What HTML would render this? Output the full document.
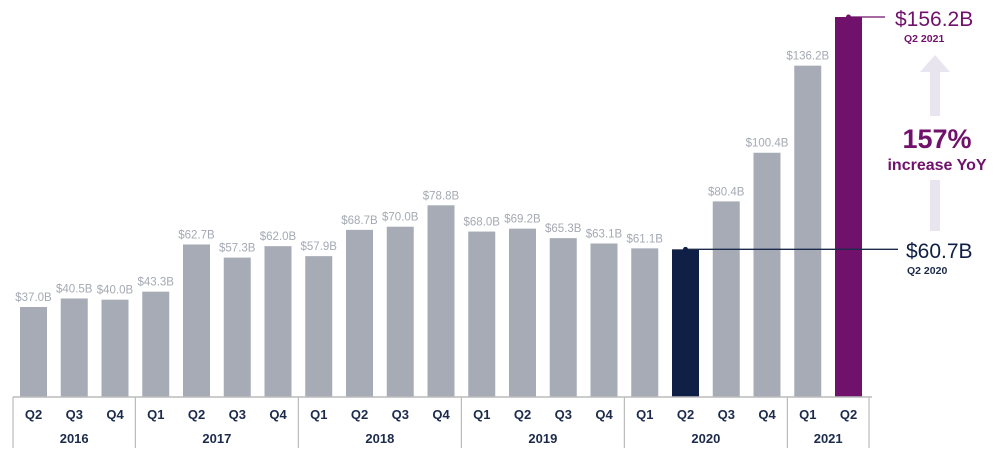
<!DOCTYPE html>
<html><head><meta charset="utf-8"><style>
body{margin:0;background:#fff;width:1000px;height:456px;overflow:hidden;font-family:"Liberation Sans",sans-serif}
</style></head><body>
<svg id="chart" width="1000" height="456" xmlns="http://www.w3.org/2000/svg"></svg>
<script>
const quarters=["Q2","Q3","Q4","Q1","Q2","Q3","Q4","Q1","Q2","Q3","Q4","Q1","Q2","Q3","Q4","Q1","Q2","Q3","Q4","Q1","Q2"];
const values=[37.0,40.5,40.0,43.3,62.7,57.3,62.0,57.9,68.7,70.0,78.8,68.0,69.2,65.3,63.1,61.1,60.7,80.4,100.4,136.2,156.2];
const years=["2016","2017","2018","2019","2020","2021"];
const yearCounts=[3,4,4,4,4,2];
const svg=document.getElementById('chart');
const NS="http://www.w3.org/2000/svg";
const base=397, scale=380/156.2, x0=20, step=40.75, bw=27;
const xPos=i=>x0+i*step;
const yPos=v=>base-v*scale;
function mk(tag,attrs,text){const e=document.createElementNS(NS,tag);for(const k in attrs)e.setAttribute(k,attrs[k]);if(text!==undefined)e.textContent=text;svg.appendChild(e);return e;}
values.forEach((v,i)=>{
  const fill=i===16?"#0f1f45":(i===20?"#70116b":"#a6abb5");
  const r=mk('rect',{x:xPos(i),y:yPos(v),width:bw,height:v*scale,fill:fill});
  
  
  if(i!==16&&i!==20){
    const t=mk('text',{x:xPos(i)+bw/2,y:yPos(v)-6,'text-anchor':'middle','font-size':'11.5',fill:'#a4a9b3'},'$'+v.toFixed(1)+'B');
    
    
  }
  const q=mk('text',{x:xPos(i)+bw/2,y:419,'text-anchor':'middle','font-size':'13','font-weight':'bold',fill:'#1c2b4b'},quarters[i]);
  
  
});
mk('line',{x1:13,y1:base,x2:872,y2:base,stroke:'#bbb','stroke-width':1.5});
let idx=0;
const sepX=i=>xPos(i)-(step-bw)/2;
mk('line',{x1:13,y1:base,x2:13,y2:448,stroke:'#bbb','stroke-width':1.2});
years.forEach((y,k)=>{
  const s=idx,e=idx+yearCounts[k];
  const xe=e<values.length?sepX(e):xPos(e-1)+bw+7;
  mk('line',{x1:xe,y1:base,x2:xe,y2:448,stroke:'#bbb','stroke-width':1.2});
  const xs=s===0?13:sepX(s);
  const t=mk('text',{x:(xs+xe)/2,y:443,'text-anchor':'middle','font-size':'13','font-weight':'bold',fill:'#1c2b4b'},y);
  
  
  idx=e;
});
// annotations
const y20=yPos(values[16]), y21=yPos(values[20]);
mk('line',{x1:xPos(16)+bw/2,y1:y20,x2:898,y2:y20,stroke:'#1c2b4b','stroke-width':1.3});
mk('circle',{cx:xPos(16)+bw/2,cy:y20,r:2.5,fill:'#0f1f45'});
mk('line',{x1:xPos(20)+bw/2,y1:y21,x2:885,y2:y21,stroke:'#70116b','stroke-width':1.3});
mk('circle',{cx:xPos(20)+bw/2,cy:y21,r:2.5,fill:'#70116b'});
const a=mk('text',{x:895,y:26,'font-size':'21',fill:'#70116b'},'$'+values[20].toFixed(1)+'B');

mk('text',{x:904,y:42,'font-size':'10.5','font-weight':'bold',fill:'#70116b'},'Q2 2021');
const b=mk('text',{x:906,y:258,'font-size':'21',fill:'#0f1f45'},'$'+values[16].toFixed(1)+'B');

mk('text',{x:907,y:274,'font-size':'10.5','font-weight':'bold',fill:'#1c2b4b'},'Q2 2020');
mk('polygon',{points:'920,72 950,72 935,55',fill:'#e9e5ef'});
mk('rect',{x:930,y:72,width:10,height:44,fill:'#e9e5ef'});
mk('rect',{x:930,y:180,width:10,height:51,fill:'#e9e5ef'});
const p=mk('text',{x:937,y:148,'text-anchor':'middle','font-size':'27','font-weight':'bold',fill:'#70116b'},'157%');

mk('text',{x:937,y:170,'text-anchor':'middle','font-size':'16','font-weight':'bold',fill:'#70116b'},'increase YoY');
</script>
</body></html>
